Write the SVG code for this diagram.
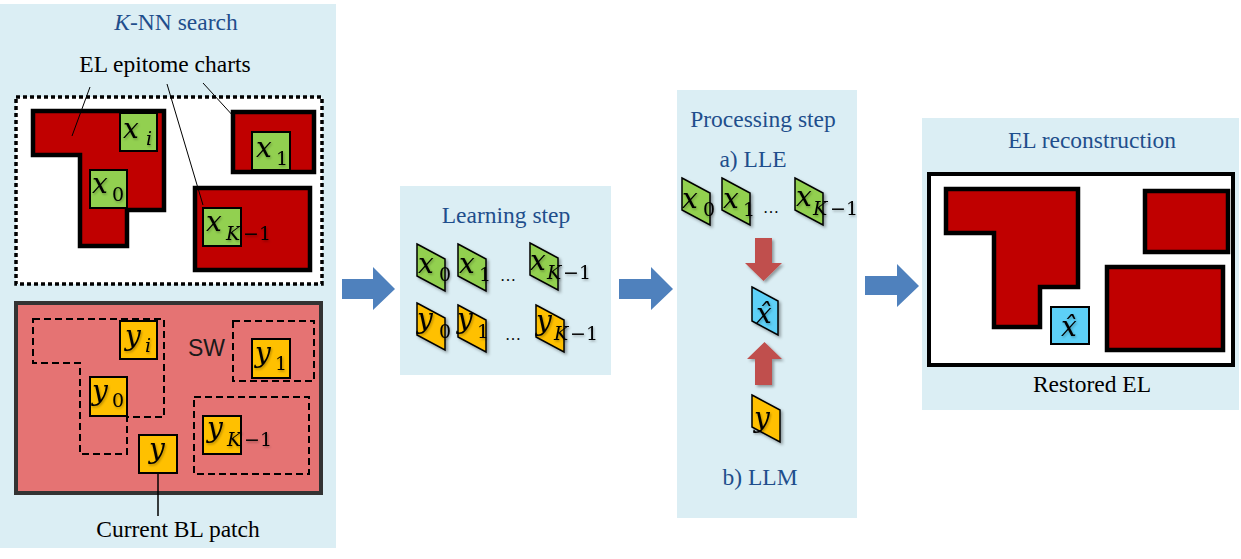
<svg xmlns="http://www.w3.org/2000/svg" width="1241" height="559" viewBox="0 0 1241 559">
<defs>
<style>
.panel{fill:#dbeef4}
.title{font-family:"Liberation Serif",serif;font-size:23.5px;fill:#1f4e8c;text-anchor:middle}
.lbl{font-family:"Liberation Serif",serif;font-size:23.5px;fill:#000;text-anchor:middle}
.red{fill:#c00000;stroke:#000;stroke-width:4.5}
.g{fill:#92d050;stroke:#000;stroke-width:2}
.yy{fill:#ffc000;stroke:#000;stroke-width:2}
.c{fill:#5dd0f7;stroke:#000;stroke-width:2}
.tile{stroke:#000;stroke-width:1.5;stroke-linejoin:miter}
.m{font-family:"DejaVu Serif",serif;font-style:italic;font-size:28px;fill:#000}
.s{font-family:"DejaVu Serif",serif;font-size:19px;fill:#000}
.si{font-family:"DejaVu Serif",serif;font-style:italic;font-size:19px;fill:#000}
.dash{fill:none;stroke:#000;stroke-width:2;stroke-dasharray:7 4}
.lead{fill:none;stroke:#000;stroke-width:1}
.barrow{fill:#4f81bd}
.rarrow{fill:#c0504d}
.dots{font-family:"Liberation Serif",serif;font-size:16px;fill:#000}
</style>
<filter id="sh" x="-30%" y="-30%" width="160%" height="160%">
<feDropShadow dx="2" dy="2" stdDeviation="1.5" flood-color="#000" flood-opacity="0.35"/>
</filter>
<filter id="ts" x="-30%" y="-30%" width="160%" height="160%">
<feDropShadow dx="1" dy="1.5" stdDeviation="1.2" flood-color="#000" flood-opacity="0.3"/>
</filter>
<path id="tl" d="M0,0 L28,15 L28,47 L0,32 Z"/>
</defs>

<!-- Panels -->
<g id="panel-knn">
<rect class="panel" x="0" y="4" width="336" height="544"/>
<text class="title" x="176" y="30"><tspan font-style="italic">K</tspan>-NN search</text>
<text class="lbl" x="165" y="72">EL epitome charts</text>
</g>
<g id="panel-learning">
<rect class="panel" x="400" y="186" width="211" height="189"/>
<text class="title" x="506" y="223">Learning step</text>
</g>
<g id="panel-processing">
<rect class="panel" x="677" y="90" width="180" height="428"/>
<text class="title" x="763" y="127">Processing step</text>
<text class="title" x="753" y="167">a) LLE</text>
<text class="title" x="760" y="485">b) LLM</text>
</g>
<g id="panel-reconstruction">
<rect class="panel" x="922" y="118" width="317" height="292"/>
<text class="title" x="1092" y="148">EL reconstruction</text>
</g>

<!-- EL epitome charts -->
<g id="el-charts">
<rect x="16" y="97" width="306" height="187" fill="#fff" stroke="#000" stroke-width="3.5" stroke-dasharray="4 3"/>
<path class="red" d="M33,111 H164 V210 H127 V246 H80 V155 H33 Z"/>
<rect class="red" x="233" y="112" width="81" height="60"/>
<rect class="red" x="195" y="188" width="115" height="82"/>
</g>
<g id="x-i"><rect class="g" x="120" y="113" width="37" height="38"/>
<g filter="url(#ts)"><text class="m" x="123" y="138">x</text><text class="si" x="146" y="145">i</text></g></g>
<g id="x-0"><rect class="g" x="90" y="170" width="37" height="38"/>
<g filter="url(#ts)"><text class="m" x="92" y="193">x</text><text class="s" x="112" y="201">0</text></g></g>
<g id="x-1"><rect class="g" x="252" y="132" width="38" height="38"/>
<g filter="url(#ts)"><text class="m" x="256" y="157">x</text><text class="s" x="276" y="165">1</text></g></g>
<g id="x-k1"><rect class="g" x="203" y="208" width="38" height="38"/>
<g filter="url(#ts)"><text class="m" x="206" y="231">x</text><text class="si" x="226" y="240">K</text><text class="s" x="243" y="240">−1</text></g></g>

<!-- BL image -->
<g id="bl-image">
<rect x="16" y="303" width="305" height="190" fill="#e57373" stroke="#333" stroke-width="4"/>
<path class="dash" d="M33,319 H164 V417 H127 V454 H80 V363 H33 Z"/>
<rect class="dash" x="233" y="321" width="81" height="60"/>
<rect class="dash" x="194" y="397" width="115" height="77"/>
<text x="188" y="356" font-family="Liberation Sans, sans-serif" font-size="23" fill="#1a1a1a">SW</text>
</g>
<g id="y-i"><rect class="yy" x="120" y="321" width="37" height="38"/>
<g filter="url(#ts)"><text class="m" x="125" y="345">y</text><text class="si" x="145" y="352">i</text></g></g>
<g id="y-0"><rect class="yy" x="90" y="377" width="37" height="39"/>
<g filter="url(#ts)"><text class="m" x="92" y="400">y</text><text class="s" x="112" y="407">0</text></g></g>
<g id="y-1"><rect class="yy" x="252" y="339" width="38" height="39"/>
<g filter="url(#ts)"><text class="m" x="255" y="362">y</text><text class="s" x="275" y="370">1</text></g></g>
<g id="y-k1"><rect class="yy" x="203" y="416" width="38" height="38"/>
<g filter="url(#ts)"><text class="m" x="207" y="437">y</text><text class="si" x="227" y="446">K</text><text class="s" x="244" y="446">−1</text></g></g>
<g id="y-cur"><rect class="yy" x="139" y="435" width="38" height="38"/>
<g filter="url(#ts)"><text class="m" x="149" y="458">y</text></g></g>
<g id="current-bl-label"><text class="lbl" x="178" y="537">Current BL patch</text></g>

<!-- Learning step tiles -->
<g id="learn-x0"><use href="#tl" x="417" y="244" class="tile" fill="#92d050" filter="url(#sh)"/>
<g filter="url(#ts)"><text class="m" x="418" y="273">x</text><text class="s" x="439" y="281">0</text></g></g>
<g id="learn-x1"><use href="#tl" x="458" y="244" class="tile" fill="#92d050" filter="url(#sh)"/>
<g filter="url(#ts)"><text class="m" x="459" y="273">x</text><text class="s" x="479" y="281">1</text></g></g>
<g id="learn-xk1"><use href="#tl" x="530" y="243" class="tile" fill="#92d050" filter="url(#sh)"/>
<g filter="url(#ts)"><text class="m" x="530" y="270">x</text><text class="si" x="547" y="279">K</text><text class="s" x="563" y="279">−1</text></g></g>
<text class="dots" x="500" y="281">…</text>
<g id="learn-y0"><use href="#tl" x="417" y="303" class="tile" fill="#ffc000" filter="url(#sh)"/>
<g filter="url(#ts)"><text class="m" x="417" y="328">y</text><text class="s" x="439" y="338">0</text></g></g>
<g id="learn-y1"><use href="#tl" x="458" y="305" class="tile" fill="#ffc000" filter="url(#sh)"/>
<g filter="url(#ts)"><text class="m" x="457" y="328">y</text><text class="s" x="477" y="338">1</text></g></g>
<g id="learn-yk1"><use href="#tl" x="536" y="305" class="tile" fill="#ffc000" filter="url(#sh)"/>
<g filter="url(#ts)"><text class="m" x="536" y="330">y</text><text class="si" x="554" y="340">K</text><text class="s" x="570" y="340">−1</text></g></g>
<text class="dots" x="505" y="340">…</text>

<!-- Processing step tiles -->
<g id="proc-x0"><use href="#tl" x="682" y="178" class="tile" fill="#92d050" filter="url(#sh)"/>
<g filter="url(#ts)"><text class="m" x="682" y="208">x</text><text class="s" x="703" y="216">0</text></g></g>
<g id="proc-x1"><use href="#tl" x="722" y="178" class="tile" fill="#92d050" filter="url(#sh)"/>
<g filter="url(#ts)"><text class="m" x="723" y="208">x</text><text class="s" x="743" y="216">1</text></g></g>
<g id="proc-xk1"><use href="#tl" x="795" y="178" class="tile" fill="#92d050" filter="url(#sh)"/>
<g filter="url(#ts)"><text class="m" x="796" y="206">x</text><text class="si" x="813" y="215">K</text><text class="s" x="830" y="215">−1</text></g></g>
<text class="dots" x="763" y="213">…</text>
<g id="proc-xhat"><path d="M752,287 L778,301 L778,335 L752,321 Z" class="tile" fill="#5dd0f7" filter="url(#sh)"/>
<g filter="url(#ts)"><text class="m" x="756" y="323">x̂</text></g></g>
<g id="proc-y"><use href="#tl" x="752" y="395" class="tile" fill="#ffc000" filter="url(#sh)"/>
<g filter="url(#ts)"><text class="m" x="754" y="427">y</text></g></g>

<!-- EL reconstruction -->
<g id="restored-el">
<rect x="929" y="174" width="304" height="191" fill="#fff" stroke="#000" stroke-width="4"/>
<path class="red" d="M946,189 H1078 V287 H1040 V327 H994 V233 H946 Z"/>
<rect class="red" x="1145" y="191" width="83" height="61"/>
<rect class="red" x="1107" y="267" width="116" height="83"/>
<rect class="c" x="1051" y="307" width="38" height="37"/>
<g filter="url(#ts)"><text class="m" x="1061" y="336">x̂</text></g>
<text class="lbl" x="1092" y="392">Restored EL</text>
</g>

<!-- Connectors -->
<g id="connectors">
<line class="lead" x1="90" y1="87" x2="72" y2="136"/>
<line class="lead" x1="167" y1="84" x2="203" y2="205"/>
<line class="lead" x1="203" y1="83" x2="235" y2="118"/>
<line x1="158" y1="473" x2="158" y2="516" stroke="#000" stroke-width="1.5"/>
<path class="barrow" d="M342,279 H373 V267 L395,289 L373,310 V299 H342 Z"/>
<path class="barrow" d="M619,279 H651 V267 L673,289 L651,310 V299 H619 Z"/>
<path class="barrow" d="M865,276 H897 V264 L919,286 L897,307 V295 H865 Z"/>
<path class="rarrow" filter="url(#sh)" d="M755,238 H772 V263 H782 L763.5,281 L745,263 H755 Z"/>
<path class="rarrow" filter="url(#sh)" d="M755,385 H772 V359 H782 L764.5,342 L747,359 H755 Z"/>
</g>
</svg>
